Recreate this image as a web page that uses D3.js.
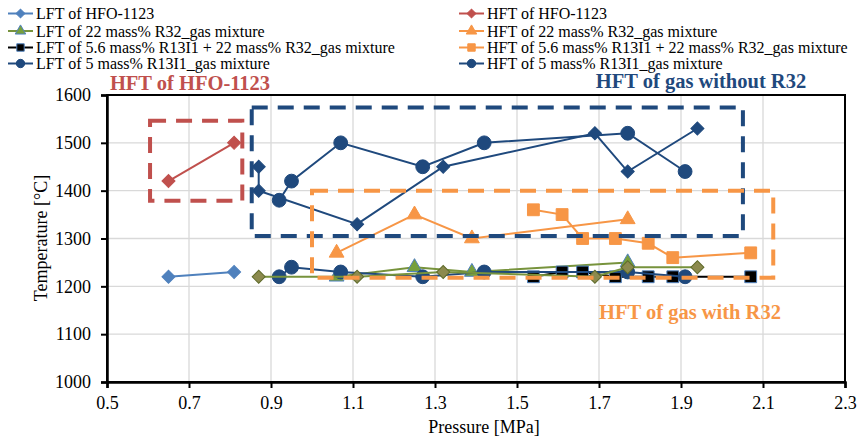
<!DOCTYPE html>
<html>
<head>
<meta charset="utf-8">
<script src="https://cdn.jsdelivr.net/npm/d3@7"></script>
<style>
    html, body { margin: 0; padding: 0; background: #fff; }
    svg { display: block; font-family: "Liberation Serif", "Times New Roman", serif; }
</style>
</head>
<body>
<svg id="chart" width="861" height="440"></svg>
<script>
// axis ticks
var pressureTicks = [0.5, 0.7, 0.9, 1.1, 1.3, 1.5, 1.7, 1.9, 2.1, 2.3];
var temperatureTicks = [1000, 1100, 1200, 1300, 1400, 1500, 1600];

// series values: [pressure MPa, temperature degC]
var lftHFO1123 = [[0.65, 1220], [0.81, 1230]];
var hftHFO1123 = [[0.65, 1420], [0.81, 1500]];
var lftR32 = [[1.06, 1220], [1.25, 1240], [1.39, 1230], [1.77, 1250]];
var hftR32 = [[1.06, 1270], [1.25, 1350], [1.39, 1300], [1.77, 1340]];
var lftR13I1R32 = [[1.54, 1220], [1.61, 1230], [1.66, 1230], [1.74, 1220], [1.82, 1220], [1.88, 1220], [2.07, 1220]];
var hftR13I1R32 = [[1.54, 1360], [1.61, 1350], [1.66, 1300], [1.74, 1300], [1.82, 1290], [1.88, 1260], [2.07, 1270]];
var lftR13I1 = [[0.92, 1220], [0.95, 1240], [1.07, 1230], [1.27, 1220], [1.42, 1230], [1.77, 1230], [1.91, 1220]];
var hftR13I1 = [[0.92, 1380], [0.95, 1420], [1.07, 1500], [1.27, 1450], [1.42, 1500], [1.77, 1520], [1.91, 1440]];
// two extra series that are not in the legend
var lftExtra = [[0.87, 1220], [1.11, 1220], [1.32, 1230], [1.69, 1220], [1.77, 1240], [1.94, 1240]];
var hftExtra = [[0.87, 1450], [0.87, 1400], [1.11, 1330], [1.32, 1450], [1.69, 1520], [1.77, 1440], [1.94, 1530]];

// annotation boxes: [pMin, pMax, tMin, tMax]
var boxHFO = [0.605, 0.83, 1379, 1546];
var boxNoR32 = [0.853, 2.051, 1305, 1574];
var boxR32 = [1.0, 2.125, 1218, 1400];

var margin = { top: 95, left: 107, right: 16, bottom: 58 },
    width = 861 - margin.left - margin.right,
    height = 440 - margin.top - margin.bottom;

var navy = '#1F497D',
    red = '#C0504D',
    orange = '#F79646',
    lightBlue = '#4F81BD',
    green = '#77933C';

var series = [
    { name: 'LFT of HFO-1123', data: lftHFO1123, line: lightBlue, fill: lightBlue, stroke: lightBlue, shape: 'diamond', col: 0, row: 0 },
    { name: 'HFT of HFO-1123', data: hftHFO1123, line: red, fill: red, stroke: red, shape: 'diamond', col: 1, row: 0 },
    { name: 'LFT of 22 mass% R32_gas mixture', data: lftR32, line: green, fill: '#77A03C', stroke: lightBlue, shape: 'triangle', col: 0, row: 1 },
    { name: 'HFT of 22 mass% R32_gas mixture', data: hftR32, line: orange, fill: orange, stroke: orange, shape: 'triangle', col: 1, row: 1 },
    { name: 'LFT of 5.6 mass% R13I1 + 22 mass% R32_gas mixture', data: lftR13I1R32, line: '#000', fill: '#000', stroke: lightBlue, shape: 'square', col: 0, row: 2 },
    { name: 'HFT of 5.6 mass% R13I1 + 22 mass% R32_gas mixture', data: hftR13I1R32, line: orange, fill: orange, stroke: orange, shape: 'square', col: 1, row: 2 },
    { name: 'LFT of 5 mass% R13I1_gas mixture', data: lftR13I1, line: navy, fill: navy, stroke: navy, shape: 'circle', col: 0, row: 3 },
    { name: 'HFT of 5 mass% R13I1_gas mixture', data: hftR13I1, line: navy, fill: navy, stroke: navy, shape: 'circle', col: 1, row: 3 },
    { name: null, data: lftExtra, line: green, fill: '#8C8A4E', stroke: '#5F6B2A', shape: 'diamond' },
    { name: null, data: hftExtra, line: navy, fill: navy, stroke: navy, shape: 'diamond' }
];

var shapes = {
    circle: { type: d3.symbolCircle, size: 150, legend: 55, rotate: 0 },
    square: { type: d3.symbolSquare, size: 140, legend: 55, rotate: 0 },
    diamond: { type: d3.symbolSquare, size: 85, legend: 38, rotate: 45 },
    triangle: { type: d3.symbolTriangle, size: 95, legend: 48, rotate: 0 }
};

var svg = d3.select('#chart');

var x = d3.scaleLinear().domain([0.5, 2.3]).range([0, width]);
var y = d3.scaleLinear().domain([1000, 1600]).range([height, 0]);

var plot = svg.append('g')
    .attr('transform', 'translate(' + margin.left + ',' + margin.top + ')');

// grid
plot.append('g')
    .selectAll('line')
    .data(pressureTicks.slice(1, -1))
    .enter()
    .append('line')
    .attr('x1', function (d) { return x(d); })
    .attr('x2', function (d) { return x(d); })
    .attr('y1', 0)
    .attr('y2', height)
    .attr('stroke', '#d9d9d9')
    .attr('stroke-width', 1.3);

plot.append('g')
    .selectAll('line')
    .data(temperatureTicks.slice(1, -1))
    .enter()
    .append('line')
    .attr('x1', 0)
    .attr('x2', width)
    .attr('y1', function (d) { return y(d); })
    .attr('y2', function (d) { return y(d); })
    .attr('stroke', '#d9d9d9')
    .attr('stroke-width', 1.3);

// frame
plot.append('rect')
    .attr('width', width)
    .attr('height', height)
    .attr('fill', 'none')
    .attr('stroke', '#000')
    .attr('stroke-width', 2);

// axes
var xAxis = plot.append('g')
    .attr('transform', 'translate(0,' + height + ')')
    .call(d3.axisBottom(x).tickValues(pressureTicks).tickSize(6).tickPadding(8)
        .tickFormat(d3.format('.1f')));
var yAxis = plot.append('g')
    .call(d3.axisLeft(y).tickValues(temperatureTicks).tickSize(6).tickPadding(10)
        .tickFormat(d3.format('d')));

[xAxis, yAxis].forEach(function (ax) {
    ax.attr('font-family', null).attr('font-size', null);
    ax.select('.domain').attr('stroke', '#000').attr('stroke-width', 2.5);
    ax.selectAll('.tick line').attr('stroke', '#000').attr('stroke-width', 2);
    ax.selectAll('.tick text')
        .attr('fill', '#000')
        .style('font-family', '"Liberation Serif", serif')
        .style('font-size', '18px');
});

// axis titles
svg.append('text')
    .attr('x', margin.left + width / 2 + 8)
    .attr('y', 433)
    .attr('text-anchor', 'middle')
    .style('font-size', '18px')
    .text('Pressure [MPa]');

svg.append('text')
    .attr('transform', 'translate(47,238) rotate(-90)')
    .attr('text-anchor', 'middle')
    .style('font-size', '18px')
    .text('Temperature [°C]');

// series lines and markers
var line = d3.line()
    .x(function (d) { return x(d[0]); })
    .y(function (d) { return y(d[1]); });

function symbolPath(shape, legend) {
    var s = shapes[shape];
    return d3.symbol().type(s.type).size(legend ? s.legend : s.size)();
}

series.forEach(function (s) {
    var g = plot.append('g');
    g.append('path')
        .attr('d', line(s.data))
        .attr('fill', 'none')
        .attr('stroke', s.line)
        .attr('stroke-width', 2);
    g.selectAll('path.marker')
        .data(s.data)
        .enter()
        .append('path')
        .attr('class', 'marker')
        .attr('d', symbolPath(s.shape, false))
        .attr('transform', function (d) {
            return 'translate(' + x(d[0]) + ',' + y(d[1]) + ') rotate(' + shapes[s.shape].rotate + ')';
        })
        .attr('fill', s.fill)
        .attr('stroke', s.stroke)
        .attr('stroke-width', 1);
});

// dashed annotation boxes
var boxes = [
    { b: boxHFO, color: red },
    { b: boxNoR32, color: navy },
    { b: boxR32, color: orange }
];
plot.append('g')
    .selectAll('rect')
    .data(boxes)
    .enter()
    .append('rect')
    .attr('x', function (d) { return x(d.b[0]); })
    .attr('y', function (d) { return y(d.b[3]); })
    .attr('width', function (d) { return x(d.b[1]) - x(d.b[0]); })
    .attr('height', function (d) { return y(d.b[2]) - y(d.b[3]); })
    .attr('fill', 'none')
    .attr('stroke', function (d) { return d.color; })
    .attr('stroke-width', 4)
    .attr('stroke-dasharray', '16,10');

// annotation labels
var notes = [
    { text: 'HFT of HFO-1123', x: 190, y: 90, color: red },
    { text: 'HFT of gas without R32', x: 701, y: 87.5, color: navy },
    { text: 'HFT of gas with R32', x: 690, y: 319, color: orange }
];
svg.append('g')
    .selectAll('text')
    .data(notes)
    .enter()
    .append('text')
    .attr('x', function (d) { return d.x; })
    .attr('y', function (d) { return d.y; })
    .attr('text-anchor', 'middle')
    .attr('fill', function (d) { return d.color; })
    .style('font-size', '20.5px')
    .style('font-weight', 'bold')
    .text(function (d) { return d.text; });

// legend
var legendCols = [8, 459],
    legendRows = [13.5, 31, 47.5, 63.5];

var legend = svg.append('g')
    .selectAll('g')
    .data(series.filter(function (s) { return s.name; }))
    .enter()
    .append('g')
    .attr('transform', function (s) {
        return 'translate(' + legendCols[s.col] + ',' + legendRows[s.row] + ')';
    });

legend.append('line')
    .attr('x1', 0)
    .attr('x2', 25)
    .attr('stroke', function (s) { return s.line; })
    .attr('stroke-width', 2);

legend.append('path')
    .attr('d', function (s) { return symbolPath(s.shape, true); })
    .attr('transform', function (s) { return 'translate(12.5,0) rotate(' + shapes[s.shape].rotate + ')'; })
    .attr('fill', function (s) { return s.fill; })
    .attr('stroke', function (s) { return s.stroke; })
    .attr('stroke-width', 1);

legend.append('text')
    .attr('x', 28)
    .attr('y', 5.5)
    .style('font-size', '16px')
    .text(function (s) { return s.name; });
</script>
</body>
</html>
